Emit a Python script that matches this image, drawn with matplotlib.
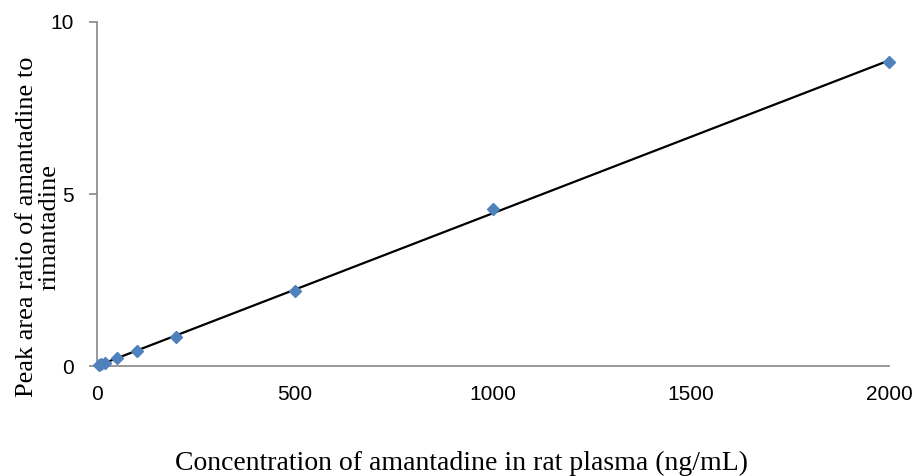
import matplotlib
matplotlib.use("Agg")
import matplotlib.pyplot as plt
import numpy as np

# calibration data (ng/mL vs peak area ratio)
conc = [5, 10, 20, 50, 100, 200, 500, 1000, 2000]
ratio = [0.03, 0.06, 0.10, 0.22, 0.45, 0.84, 2.18, 4.56, 8.84]
xticks = [0, 500, 1000, 1500, 2000]
yticks = [0, 5, 10]

fig = plt.figure(figsize=(9.15, 4.76), dpi=100)
ax = fig.add_axes([0.106, 0.231, 0.8656, 0.7228])

# linear trendline over data range
k, b = np.polyfit(conc, ratio, 1)
xs = np.array([min(conc), max(conc)])
ax.plot(xs, k * xs + b, color="black", linewidth=1.6, zorder=2)
ax.plot(conc, ratio, linestyle="none", marker="D", markersize=6.5,
        color="#4F81BD", markeredgecolor="#4F81BD", zorder=3, clip_on=False)

ax.set_xlim(0, 2000)
ax.set_ylim(0, 10)
ax.set_xticks(xticks)
ax.set_yticks(yticks)
for s in ["top", "right"]:
    ax.spines[s].set_visible(False)
for s in ["left", "bottom"]:
    ax.spines[s].set_color("#868686")
    ax.spines[s].set_linewidth(1.2)
ax.tick_params(axis="y", length=6, color="#868686", width=1.2, pad=11)
ax.tick_params(axis="x", length=0, pad=14)
for lab in ax.get_xticklabels() + ax.get_yticklabels():
    lab.set_fontfamily("Liberation Sans")
    lab.set_fontsize(15)

fig.text(0.504, 0.027, "Concentration of amantadine in rat plasma (ng/mL)",
         ha="center", va="center", fontsize=20, family="Liberation Serif")
fig.text(0.042, 0.523, "Peak area ratio of amantadine to\nrimantadine",
         ha="center", va="center", rotation=90, fontsize=19,
         family="Liberation Serif", linespacing=1.0)

plt.savefig("out.png", dpi=100)
